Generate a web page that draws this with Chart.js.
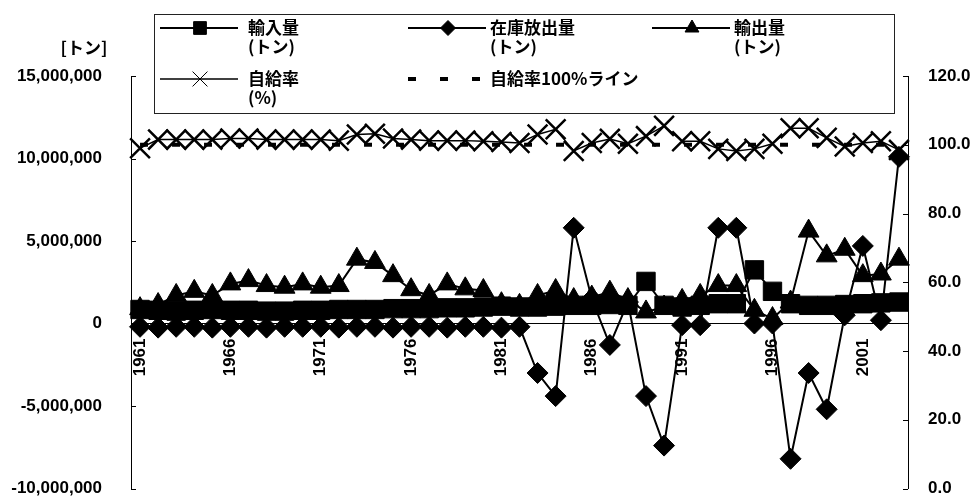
<!DOCTYPE html>
<html>
<head>
<meta charset="utf-8">
<script src="https://cdn.jsdelivr.net/npm/chart.js@4.4.0/dist/chart.umd.min.js"></script>
<style>
  html, body { margin: 0; padding: 0; background: #fff; overflow: hidden; }
  #wrap { width: 974px; height: 496px; overflow: hidden; }
</style>
</head>
<body>
<div id="wrap"><canvas id="chart" width="974" height="505"></canvas></div>
<script>
const years = ['1961','1962','1963','1964','1965','1966','1967','1968','1969','1970',
  '1971','1972','1973','1974','1975','1976','1977','1978','1979','1980',
  '1981','1982','1983','1984','1985','1986','1987','1988','1989','1990',
  '1991','1992','1993','1994','1995','1996','1997','1998','1999','2000',
  '2001','2002','2003'];

// tonnes
const imports = [850000, 800000, 750000, 800000, 850000, 800000, 800000, 750000, 750000, 800000,
  800000, 850000, 850000, 850000, 900000, 900000, 900000, 950000, 950000, 1000000,
  1050000, 1000000, 1000000, 1050000, 1100000, 1100000, 1150000, 1100000, 2550000, 1100000,
  1000000, 1100000, 1200000, 1200000, 3250000, 1950000, 1200000, 1100000, 1100000, 1150000,
  1200000, 1250000, 1300000];

const stockRelease = [-200000, -250000, -200000, -200000, -250000, -200000, -200000, -250000, -200000, -200000,
  -200000, -250000, -200000, -200000, -250000, -200000, -200000, -250000, -200000, -200000,
  -250000, -200000, -3000000, -4400000, 5800000, 1500000, -1300000, 1300000, -4400000, -7400000,
  -100000, -100000, 5800000, 5800000, 0, 0, -8200000, -3000000, -5200000, 500000,
  4700000, 200000, 10100000];

const exports = [900000, 1150000, 1700000, 1950000, 1700000, 2400000, 2600000, 2300000, 2200000, 2400000,
  2200000, 2300000, 3900000, 3700000, 2900000, 2050000, 1700000, 2400000, 2100000, 2000000,
  1200000, 1100000, 1700000, 2000000, 1450000, 1600000, 1900000, 1450000, 700000, 1000000,
  1400000, 1700000, 2300000, 2300000, 800000, 300000, 1300000, 5600000, 4100000, 4500000,
  2900000, 3000000, 3900000];

// percent, right axis
const selfRate = [99.0, 101.5, 101.5, 101.5, 101.5, 101.8, 101.8, 101.5, 101.5, 101.5,
  101.5, 101.2, 103.0, 103.2, 101.8, 101.5, 101.2, 101.2, 101.2, 101.0,
  100.8, 100.5, 103.0, 104.5, 98.2, 100.5, 101.7, 100.3, 102.5, 105.5,
  101.0, 101.0, 98.8, 98.2, 98.8, 100.3, 104.8, 104.8, 102.0, 99.5,
  100.5, 101.0, 98.5];

const line100 = [100, 100, 100, 100, 100, 100, 100, 100, 100, 100,
  100, 100, 100, 100, 100, 100, 100, 100, 100, 100,
  100, 100, 100, 100, 100, 100, 100, 100, 100, 100,
  100, 100, 100, 100, 100, 100, 100, 100, 100, 100,
  100, 100, 100];

const leftTicks = [-10000000, -5000000, 0, 5000000, 10000000, 15000000];
const rightTicks = [0, 20, 40, 60, 80, 100, 120];

const numFont = '"Liberation Sans", Arial, sans-serif';
const jpFont = '"Noto Sans CJK JP", "Noto Sans", sans-serif';

Chart.defaults.font.family = numFont;
Chart.defaults.color = '#000';

// legend, unit label and inner tick marks
const decor = {
  id: 'decor',
  afterDatasetsDraw(chart) {
    const ctx = chart.ctx;
    const area = chart.chartArea;
    const yL = chart.scales.y, yR = chart.scales.y1;
    ctx.save();
    ctx.strokeStyle = '#000';
    ctx.fillStyle = '#000';
    ctx.lineWidth = 1;
    leftTicks.forEach(v => {
      const p = Math.round(yL.getPixelForValue(v)) + 0.5;
      ctx.beginPath(); ctx.moveTo(area.left, p); ctx.lineTo(area.left + 5, p); ctx.stroke();
    });
    rightTicks.forEach(v => {
      const p = Math.round(yR.getPixelForValue(v)) + 0.5;
      ctx.beginPath(); ctx.moveTo(area.right, p); ctx.lineTo(area.right - 5, p); ctx.stroke();
    });

    ctx.font = 'bold 17px ' + jpFont;
    ctx.textAlign = 'center';
    ctx.textBaseline = 'middle';
    ctx.fillText('[トン]', 84, 48);

    // legend box
    ctx.fillStyle = '#fff';
    ctx.fillRect(154, 14, 740, 99);
    ctx.strokeStyle = '#222';
    ctx.strokeRect(154.5, 14.5, 740, 99);

    const slots = [[160, 28], [408, 28], [652, 28], [160, 79], [408, 79]];
    const textX = [248, 490, 734, 248, 490];
    const markR = [9, 7.5, 8, 10.5, 0];
    ctx.strokeStyle = '#000';
    ctx.fillStyle = '#000';
    chart.data.datasets.forEach((ds, i) => {
      const [x, y] = slots[i];
      ctx.save();
      ctx.lineWidth = ds.borderWidth;
      ctx.setLineDash(ds.borderDash || []);
      ctx.beginPath();
      ctx.moveTo(x, y);
      ctx.lineTo(x + (ds.borderDash ? 74 : 78), y);
      ctx.stroke();
      ctx.restore();
      if (markR[i]) {
        Chart.helpers.drawPoint(ctx, {
          pointStyle: ds.pointStyle, radius: markR[i], rotation: 0,
          borderWidth: ds.pointStyle === 'crossRot' ? 2 : 1
        }, x + 40, y);
      }
      ctx.font = 'bold 17px ' + jpFont;
      ctx.textAlign = 'left';
      ctx.textBaseline = 'middle';
      ds.label.split('\n').forEach((t, k) => ctx.fillText(t, textX[i], y + k * 19));
    });
    ctx.restore();
  }
};

const common = { borderColor: '#000', backgroundColor: '#000', borderWidth: 2,
  pointBorderColor: '#000', pointBackgroundColor: '#000', pointBorderWidth: 1, tension: 0 };

const noPad = s => { s.paddingTop = 0; s.paddingBottom = 0; s.paddingLeft = 0; s.paddingRight = 0; };

new Chart(document.getElementById('chart'), {
  type: 'line',
  data: {
    labels: years,
    datasets: [
      Object.assign({ label: '輸入量\n(トン)', data: imports, yAxisID: 'y',
        pointStyle: 'rect', pointRadius: 13 }, common),
      Object.assign({ label: '在庫放出量\n(トン)', data: stockRelease, yAxisID: 'y',
        pointStyle: 'rectRot', pointRadius: 10.5 }, common),
      Object.assign({ label: '輸出量\n(トン)', data: exports, yAxisID: 'y',
        pointStyle: 'triangle', pointRadius: 12 }, common),
      Object.assign({}, common, { label: '自給率\n(%)', data: selfRate, yAxisID: 'y1',
        pointStyle: 'crossRot', pointRadius: 14, pointBorderWidth: 2.5, borderWidth: 1.5 }),
      Object.assign({}, common, { label: '自給率100%ライン', data: line100, yAxisID: 'y1',
        pointRadius: 0, borderWidth: 4, borderDash: [8, 24], borderCapStyle: 'butt' })
    ]
  },
  options: {
    responsive: false,
    animation: false,
    events: [],
    layout: { padding: { top: 76, bottom: 0, left: 0, right: 0 } },
    plugins: { legend: { display: false }, tooltip: { enabled: false } },
    scales: {
      x: {
        type: 'category',
        offset: true,
        position: { y: 0 },
        grid: { display: false },
        border: { display: true, color: '#000', width: 1, dash: [6, 3] },
        afterFit: s => { noPad(s); s.height = 0; },
        ticks: {
          autoSkip: false, minRotation: 90, maxRotation: 90, padding: 7,
          font: { size: 17, weight: 'bold' },
          callback: function (v, i) { return i % 5 === 0 ? years[i] : ''; }
        }
      },
      y: {
        position: 'left',
        min: -10000000, max: 15000000,
        afterBuildTicks: s => { s.ticks = leftTicks.map(v => ({ value: v })); },
        afterFit: s => { noPad(s); s.width = 131; },
        grid: { display: false },
        border: { display: true, color: '#000', width: 1 },
        ticks: { padding: 21, font: { size: 17, weight: 'bold' },
          callback: v => v.toLocaleString('en-US') }
      },
      y1: {
        position: 'right',
        min: 0, max: 120,
        afterBuildTicks: s => { s.ticks = rightTicks.map(v => ({ value: v })); },
        afterFit: s => { noPad(s); s.width = 66; },
        grid: { display: false },
        border: { display: true, color: '#000', width: 1 },
        ticks: { padding: 12, font: { size: 17, weight: 'bold' },
          callback: v => v.toFixed(1) }
      }
    }
  },
  plugins: [decor]
});
</script>
</body>
</html>
